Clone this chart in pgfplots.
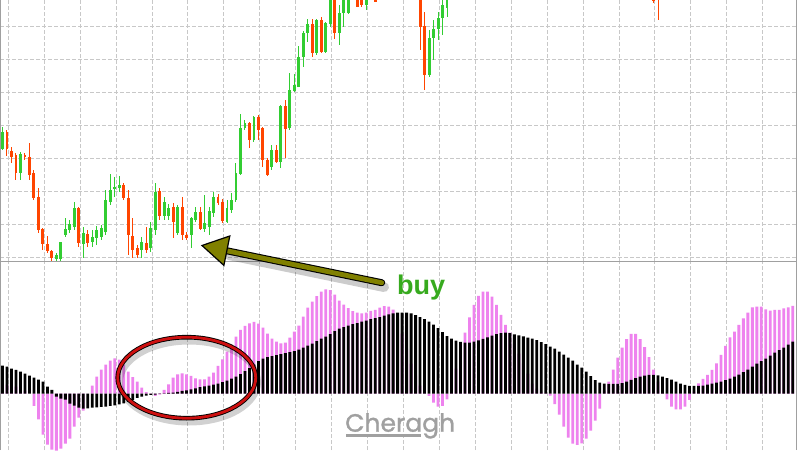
\documentclass[border=0pt]{standalone}
\usepackage{pgfplots}
\pgfplotsset{compat=1.18}
\usepackage{pgfplotstable}
\usepackage{fontspec}
\newfontfamily\buyfont{Liberation Sans}
\newfontfamily\wmfont{Poppins}[FakeBold=1.2]
\definecolor{cgreen}{RGB}{50,205,50}
\definecolor{cred}{RGB}{255,69,0}
\definecolor{pinkc}{RGB}{238,130,238}
\definecolor{gridc}{RGB}{200,200,200}
\definecolor{bordc}{RGB}{160,160,160}
\definecolor{olivec}{RGB}{128,128,0}
\definecolor{ellred}{RGB}{205,15,15}
\definecolor{buyc}{RGB}{55,170,30}
\definecolor{wmc}{RGB}{160,160,160}

% candles: i, high, body top, body bottom, low (heights above panel bottom)
\pgfplotstableread{
i hi bt bb lo
0 135.3 130.3 113 112
4 110.3 108 88.7 82
12 9 7 2.7 1
13 20 19.7 2.7 1
14 44 32.7 27 24.7
15 42 37.7 32 28.7
16 60.3 54.3 35.3 32
18 35.3 28.7 17.7 3.7
20 32 25.3 19.7 15.3
21 36 32 23.7 17
22 37 33.7 24.7 22
23 72 62 30.3 27
24 88 72 60.3 57
25 85.3 75.3 72.7 65.3
26 86.3 77 73.7 70.3
31 24.7 19.7 12 3.7
33 40.3 33.7 13.7 10.3
34 79.3 70.3 32 27
36 64.7 60.3 46 42
37 58 53.7 46 42
39 57 54.7 28.7 27
42 45.3 43.7 27 13.7
43 55.3 50.3 42 40.3
45 67 38.7 32.7 30.3
46 54.7 51.3 35.3 27
47 70.3 65.3 48.7 45.3
50 62 53.7 40.3 38.7
51 68.7 62 52 48.7
52 98.7 88.7 62 60.3
53 148 133.7 88 87
54 142 138.7 133.7 132
56 146 145.3 122 120
60 117 112 95.3 92
62 157 156 100.3 93.7
64 188.7 172 133.7 132
65 188 177 171.3 170.3
66 216 204.7 175.3 174.7
67 231.3 229.3 204.7 195.3
68 242.7 238 228.7 220.3
70 242.7 242 208.7 207
72 240.3 239.3 210.3 208.7
73 272 267 238 235.3
75 257 248.7 228.7 217
76 272 267 248.7 235.3
77 274 270 249 248
81 274 267 257 252
95 232 223.7 187 185.3
96 242 232.7 223.7 202
97 250.3 243.7 232.7 222
98 262 257 243.7 227
99 272 267 253.7 245.3
}\greentab

\pgfplotstableread{
i hi bt bb lo
1 132 130 113 106
2 115 111.3 105.3 99
3 109 107 88.7 82
5 109 107 104.7 102
6 118.7 105.3 87 82
7 92 88.7 63.7 62
8 74 65.3 32 29
9 34 32.7 18 12
10 26 17.7 11.3 9
11 12 11.3 3.7 0
17 55 53.7 18.7 15
19 32 27.7 18.7 15.3
27 79 77 63.7 62
28 72 63.7 27 7
29 43.7 26.3 12 3.7
30 17 13.7 7 4
32 35.3 18.7 12 8.7
35 74.3 71.3 46 42
38 58.7 55.3 40.3 23.7
40 65.3 55.3 27 22
41 30 27 23.7 22
44 54.7 50.3 32.7 32
48 68 65.3 58.7 57
49 62.7 60.3 41.3 38.7
55 140.3 138.7 122 113.7
57 147 145.3 132 122
58 135.3 133.7 102 95.3
59 104 102 87 86
61 117 112 100.3 98.7
63 162 156 132.7 103.7
69 242.7 238 208.7 205.3
71 244.7 242 210.3 208.7
74 270 265 228.7 222.7
79 272 268 255.3 254.7
80 272 267 257 254.7
83 272 267 260.3 260
93 282 272 235.3 212
94 250.3 236 187 172
145 282 272 260.5 259
146 287 277 262 242
}\redtab

% indicator: i, pink histogram p, black histogram b
\pgfplotstableread{
i p b
0 10 28
1 9 27
2 8 25
3 7 23.7
4 5 22
5 3 20
6 0 18
7 -12.3 16
8 -25.7 14
9 -41 12
10 -51 7
11 -56 3.7
12 -57 -3
13 -55 -5
14 -50 -6
15 -45 -10
16 -33 -12
17 -24 -14
18 -17 -15
19 0 -14.7
20 8 -14
21 17 -13.7
22 24 -13.3
23 29 -13
24 33 -12.3
25 35.3 -11.7
26 34 -10.7
27 29 -9.7
28 22 -8.3
29 16.5 -6.3
30 12 -4.3
31 6 -3
32 1.5 -2
33 -0.5 -1.3
34 -2.3 -1
35 -1 -0.3
36 3.7 0.3
37 9.3 0.7
38 16 1
39 19.3 1.7
40 20.3 2.7
41 19.3 3.3
42 17.7 4.3
43 15.3 5.3
44 14.3 6.5
45 14.3 7.3
46 17 8
47 21 9
48 27.7 10
49 34.3 11.5
50 42 13
51 48.7 15
52 57 17
53 63.7 19.5
54 67.7 22.5
55 70.3 25.5
56 71.7 29
57 70 32.5
58 66 35
59 60 36.5
60 55 37.5
61 52 38.5
62 50.3 39.5
63 51 40.5
64 56 41.5
65 62 42.5
66 68 44
67 77 46
68 86 48
69 92 50
70 97.5 52.5
71 102 55
72 104.3 57
73 103.5 59.5
74 99 62.5
75 93 65
76 89 66.5
77 85.5 68
78 82.5 69.5
79 81 70.5
80 80.3 72
81 81 73
82 82.7 74.5
83 83.7 75.5
84 86 76.5
85 87.5 78
86 87 79.3
87 84 80.3
88 75 81
89 60 81
90 45 81
91 30 80.3
92 18 78.5
93 8 76.5
94 1 74.5
95 -2.3 72
96 -9 69
97 -13 65.5
98 -12.3 61.5
99 -5.7 57.5
100 10 55
101 25 53
102 42 51.7
103 61 51
104 76.3 51
105 88.7 52
106 97.7 53.3
107 102 54.7
108 102 56.3
109 97 58
110 88.7 59.5
111 78.7 60.5
112 68.7 61
113 61 60.5
114 50 59.3
115 40 58.3
116 30 57.3
117 20 56
118 10 55
119 5 53.5
120 2 51.5
121 0.5 49.5
122 -2 47
123 -10.5 45
124 -21 42
125 -33 39
126 -44 36
127 -50 33
128 -51.3 29
129 -49.7 26
130 -45 22
131 -37 17.5
132 -27 13.5
133 -15 11
134 3 10
135 12 9.7
136 24 9.7
137 36 9.7
138 46 10.5
139 54.5 12
140 59.7 13.7
141 59.7 15.5
142 54.5 17
143 46.5 18
144 36.5 18.7
145 24 18.7
146 12 18.3
147 3 17
148 -5.7 15.5
149 -13 14
150 -15.7 12
151 -15.7 10
152 -13 8.7
153 -6.3 7.7
154 2 7.7
155 10.3 7.7
156 14.7 8
157 18.7 9
158 23.7 10
159 30.3 11
160 38.7 12
161 47.7 13.5
162 56.3 15
163 62 17
164 68.7 19
165 75.3 21.5
166 81 24
167 86.3 27
168 87 30
169 87 32.5
170 84.3 35
171 83 38
172 83.7 41
173 83.7 43.5
174 85.3 46
175 86.3 49
176 87.7 52
}\histtab

\pgfplotsset{
  panel/.style={
    scale only axis, width=796pt,
    xmin=-0.557, xmax=176.72,
    axis line style={draw=none}, tick style={draw=none},
    xticklabels={}, yticklabels={},
    xtick={1.29,9.29,17.29,25.29,33.29,41.29,49.29,57.29,65.29,73.29,81.29,89.29,97.29,105.29,113.29,121.29,129.29,137.29,145.29,153.29,161.29,169.29},
    major grid style={draw=gridc, dash pattern=on 4pt off 2pt, line width=0.9pt},
  },
  candle/.style={draw=none, mark=none, forget plot,
    error bars/.cd, y dir=both, y explicit, error mark=none,
    error bar style={draw=#1, line width=1pt}},
  body/.style={draw=none, mark=none, forget plot,
    error bars/.cd, y dir=both, y explicit, error mark=none,
    error bar style={draw=#1, line width=2.9pt}},
}

\begin{document}
\begin{tikzpicture}[x=1pt,y=1pt]
\useasboundingbox[fill=white] (0,0) rectangle (800,450);

% price panel
\begin{axis}[panel, at={(0,188)}, anchor=south west, height=262pt,
  ymin=0, ymax=262, xmajorgrids, ymajorgrids,
  ytick={4.3,37.4,70.5,103.6,136.7,169.8,202.9,236.0}]
\addplot[candle=cgreen] table[x=i, y expr={(\thisrow{hi}+\thisrow{lo})/2}, y error expr={(\thisrow{hi}-\thisrow{lo})/2}] {\greentab};
\addplot[body=cgreen] table[x=i, y expr={(\thisrow{bt}+\thisrow{bb})/2}, y error expr={(\thisrow{bt}-\thisrow{bb})/2}] {\greentab};
\addplot[candle=cred] table[x=i, y expr={(\thisrow{hi}+\thisrow{lo})/2}, y error expr={(\thisrow{hi}-\thisrow{lo})/2}] {\redtab};
\addplot[body=cred] table[x=i, y expr={(\thisrow{bt}+\thisrow{bb})/2}, y error expr={(\thisrow{bt}-\thisrow{bb})/2}] {\redtab};
\end{axis}

% indicator panel
\begin{axis}[panel, at={(0,0)}, anchor=south west, height=188pt,
  ymin=-56.4, ymax=131.6, xmajorgrids, ytick=\empty]
\addplot[ybar, bar width=2.8pt, bar shift=0pt, fill=pinkc, draw=none] table[x=i, y=p] {\histtab};
\addplot[ybar, bar width=2.8pt, bar shift=0pt, fill=black, draw=none] table[x=i, y=b] {\histtab};
\end{axis}

% frame
\draw[bordc, line width=1pt] (0.5,0) -- (0.5,450);
\draw[bordc, line width=1pt] (796.5,0) -- (796.5,450);
\draw[bordc, line width=1.2pt] (0,188.3) -- (796.5,188.3);

% ellipse
\draw[black, opacity=0.18, line width=6pt] (189,68) ellipse [x radius=69, y radius=40.5];
\draw[black, line width=4.6pt] (186.7,72.3) ellipse [x radius=69, y radius=40.5];
\draw[ellred, line width=2.8pt] (186.7,72.3) ellipse [x radius=69, y radius=40.5];

% arrow
\draw[black, opacity=0.2, line width=10pt, line cap=round] (384,163) -- (229,195);
\draw[black, line width=7pt, line cap=round] (381.7,167.3) -- (226.5,199.3);
\draw[olivec, line width=4.8pt, line cap=round] (381.7,167.3) -- (226.5,199.3);
\filldraw[fill=olivec, draw=black, line width=1.2pt, line join=miter] (202,204.5) -- (229.8,214) -- (223.9,184.6) -- cycle;

% buy
\node[anchor=base west, inner sep=0pt, text=buyc] at (397,155.7) {\buyfont\bfseries\fontsize{27}{30}\selectfont buy};

% watermark
\node[anchor=base west, inner sep=0pt, text=wmc] at (345,18.3) {\wmfont\fontsize{25}{30}\selectfont Cheragh};
\draw[wmc, line width=2.2pt] (346,14.5) -- (421,14.5);
\end{tikzpicture}
\end{document}
